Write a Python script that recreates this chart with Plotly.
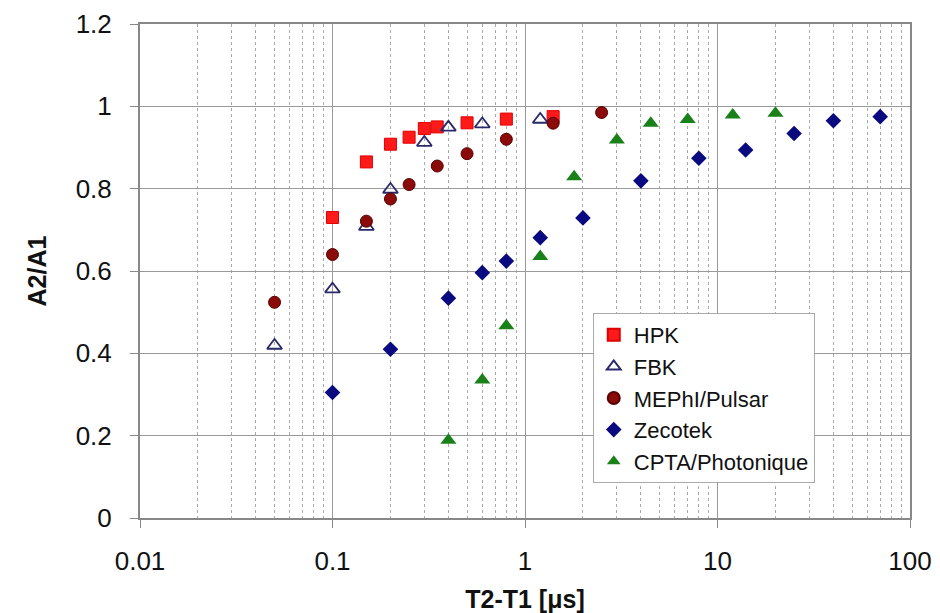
import plotly.graph_objects as go

hpk_x = [0.1, 0.15, 0.2, 0.25, 0.3, 0.35, 0.5, 0.8, 1.4]
hpk_y = [0.73, 0.865, 0.908, 0.925, 0.946, 0.95, 0.96, 0.969, 0.975]

fbk_x = [0.05, 0.1, 0.15, 0.2, 0.3, 0.4, 0.6, 1.2]
fbk_y = [0.419, 0.556, 0.708, 0.798, 0.912, 0.949, 0.957, 0.968]

mephi_x = [0.05, 0.1, 0.15, 0.2, 0.25, 0.35, 0.5, 0.8, 1.4, 2.5]
mephi_y = [0.524, 0.640, 0.721, 0.775, 0.810, 0.855, 0.885, 0.920, 0.959, 0.985]

zec_x = [0.1, 0.2, 0.4, 0.6, 0.8, 1.2, 2, 4, 8, 14, 25, 40, 70]
zec_y = [0.305, 0.410, 0.534, 0.596, 0.624, 0.681, 0.729, 0.819, 0.874, 0.894, 0.934, 0.965, 0.975]

cpta_x = [0.4, 0.6, 0.8, 1.2, 1.8, 3, 4.5, 7, 12, 20]
cpta_y = [0.189, 0.335, 0.467, 0.635, 0.829, 0.918, 0.959, 0.968, 0.979, 0.983]

x_tickvals = [0.01, 0.1, 1, 10, 100]
x_ticktext = ["0.01", "0.1", "1", "10", "100"]
y_tickvals = [0, 0.2, 0.4, 0.6, 0.8, 1.0, 1.2]
y_ticktext = ["0", "0.2", "0.4", "0.6", "0.8", "1", "1.2"]

FONT = "Liberation Sans, Arial"
axis_font = dict(family=FONT, size=26, color="#111111")

fig = go.Figure()
fig.add_trace(go.Scatter(x=hpk_x, y=hpk_y, mode="markers", name="HPK",
                         marker=dict(symbol="square", size=12, color="#ff1a1a",
                                     line=dict(color="#e00000", width=1))))
fig.add_trace(go.Scatter(x=fbk_x, y=fbk_y, mode="markers", name="FBK",
                         marker=dict(symbol="triangle-up-open", size=13, color="#2a2a6a",
                                     line=dict(color="#2a2a6a", width=1.8))))
fig.add_trace(go.Scatter(x=mephi_x, y=mephi_y, mode="markers", name="MEPhI/Pulsar",
                         marker=dict(symbol="circle", size=12, color="#8b0a0a",
                                     line=dict(color="#5a0000", width=1))))
fig.add_trace(go.Scatter(x=zec_x, y=zec_y, mode="markers", name="Zecotek",
                         marker=dict(symbol="diamond", size=12, color="#0a0a80",
                                     line=dict(color="#0a0a80", width=0))))
fig.add_trace(go.Scatter(x=cpta_x, y=cpta_y, mode="markers", name="CPTA/Photonique",
                         marker=dict(symbol="triangle-up", size=14, color="#1a801a",
                                     line=dict(color="#1a801a", width=0))))

fig.update_layout(
    width=940, height=613,
    margin=dict(l=140, r=30, t=24, b=95, autoexpand=False),
    plot_bgcolor="white", paper_bgcolor="white",
    font=dict(family=FONT, color="#111111"),
    xaxis=dict(
        type="log", range=[-2, 2], automargin=False,
        tickvals=x_tickvals, ticktext=x_ticktext,
        tickfont=axis_font, ticks="outside", ticklen=8, tickcolor="#888888",
        ticklabelstandoff=11,
        showgrid=True, gridcolor="#999999", gridwidth=1.3,
        minor=dict(dtick="D1", showgrid=True, gridcolor="#aaaaaa", griddash="dot", gridwidth=1, ticks=""),
        showline=True, linecolor="#888888", linewidth=2, mirror=True,
        zeroline=False,
        title=dict(text="<b>T2-T1 [μs]</b>", font=dict(family=FONT, size=25, color="#111111"), standoff=22),
    ),
    yaxis=dict(
        range=[0, 1.2], automargin=False,
        tickvals=y_tickvals, ticktext=y_ticktext,
        tickfont=axis_font, ticks="outside", ticklen=8, tickcolor="#888888",
        ticklabelstandoff=13,
        showgrid=True, gridcolor="#999999", gridwidth=1.3,
        showline=True, linecolor="#888888", linewidth=2, mirror=True,
        zeroline=False,
        title=dict(text="<b>A2/A1</b>", font=dict(family=FONT, size=25, color="#111111"), standoff=22),
    ),
    legend=dict(
        x=0.588, y=0.415, xanchor="left", yanchor="top",
        bgcolor="white", bordercolor="#aaaaaa", borderwidth=1,
        font=dict(family=FONT, size=22, color="#111111"),
        itemsizing="constant",
        tracegroupgap=0,
    ),
    showlegend=True,
)

fig.write_html("out.html")
